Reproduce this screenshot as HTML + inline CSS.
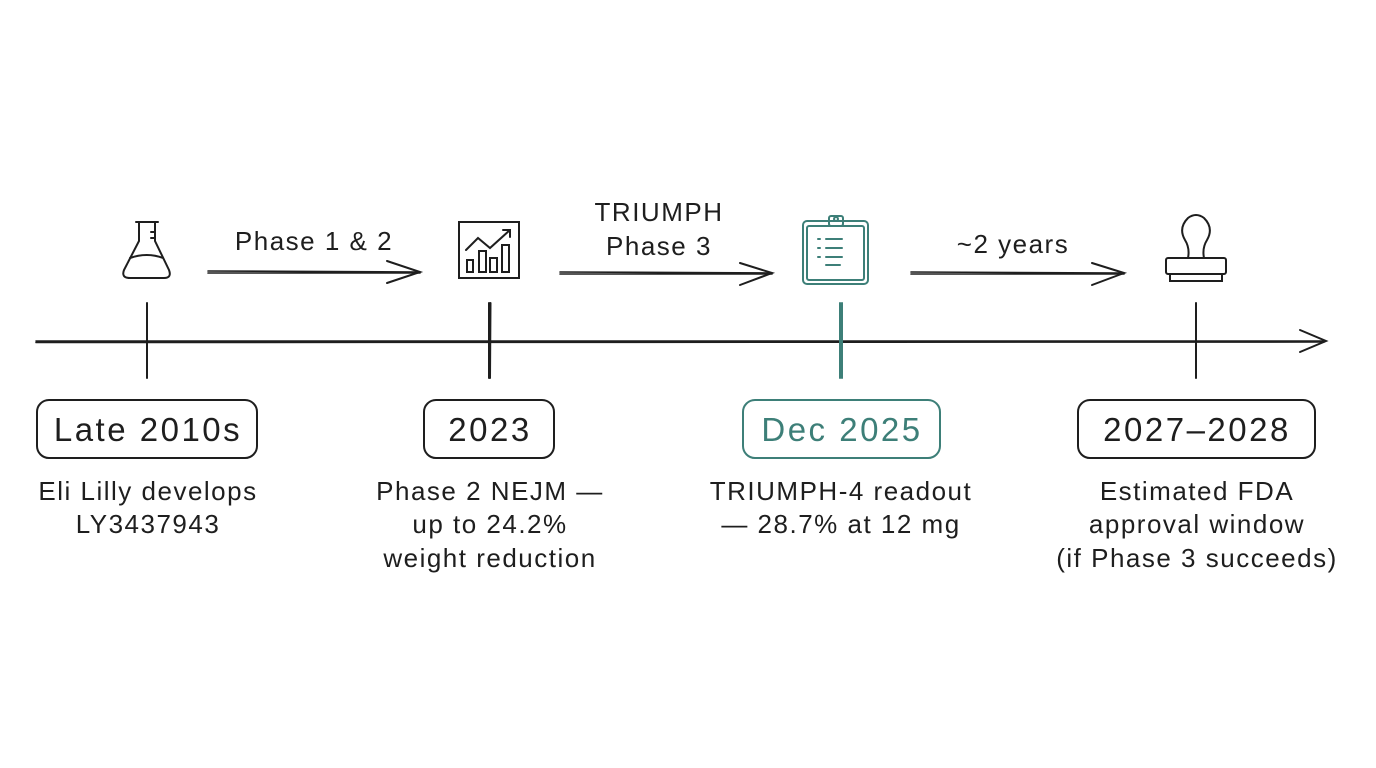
<!DOCTYPE html>
<html><head><meta charset="utf-8"><style>
html,body{margin:0;padding:0;background:#fff;}
svg{display:block}
text{font-family:"Liberation Sans",sans-serif;}
</style></head><body>
<svg width="1376" height="768" viewBox="0 0 1376 768" xmlns="http://www.w3.org/2000/svg">
<rect width="1376" height="768" fill="#fff"/>
<g stroke="#1e1e1e" stroke-width="2" fill="none" stroke-linecap="round">
<path d="M36 341 L1324 341 M36 342.5 L1324 342" stroke-width="1.6"/>
<path d="M1300 330 L1326 341 L1300 352"/>
<path d="M147 303 L147 378"/>
<path d="M489 303 L489 378 M490.5 303 L490 378"/>
<path d="M1196 303 L1196 378"/>
<path d="M208 271 L420 272 M208 273 L420 273" stroke-width="1.6"/>
<path d="M387 261 L420 272 L387 283"/>
<path d="M560 272 L772 273 M560 274 L772 274" stroke-width="1.6"/>
<path d="M740 263 L772 273 L740 285"/>
<path d="M911 272 L1124 273 M911 274 L1124 274" stroke-width="1.6"/>
<path d="M1092 263 L1124 273 L1092 285"/>
<rect x="37" y="400" width="220" height="58" rx="12"/>
<rect x="424" y="400" width="130" height="58" rx="12"/>
<rect x="1078" y="400" width="237" height="58" rx="12"/>
<path d="M136 222 L158 222 M139 222 L139 241 L124 270 Q121 278 130 278 L164 278 Q172 278 169 270 L155 241 L155 222"/>
<path d="M130 258 Q147 252 163 258"/>
<path d="M151 232 L155 232 M151 238 L155 238"/>
<rect x="459" y="222" width="60" height="56"/>
<path d="M466 250 L478 238 L490 248 L510 230 M503 230 L510 230 L510 237"/>
<rect x="467" y="260" width="6" height="12"/>
<rect x="479" y="251" width="7" height="21"/>
<rect x="490" y="258" width="7" height="14"/>
<rect x="502" y="245" width="7" height="27"/>
<path d="M1188 258 Q1190 248 1185 240 Q1178 228 1188 218 Q1196 212 1204 218 Q1214 228 1207 240 Q1202 248 1204 258"/>
<rect x="1166" y="258" width="60" height="16" rx="2"/>
<path d="M1170 274 L1170 281 L1222 281 L1222 274"/>
</g>
<g stroke="#3d7f78" stroke-width="2" fill="none" stroke-linecap="round">
<path d="M840 303 L840 378 M842 303 L842 378"/>
<rect x="743" y="400" width="197" height="58" rx="12"/>
<rect x="803" y="221" width="65" height="63" rx="4"/>
<rect x="807" y="226" width="57" height="54" rx="2"/>
<rect x="829" y="216" width="14" height="10" rx="2"/>
<circle cx="836" cy="219" r="2"/>
<path d="M818 239 L820 239 M826 239 L842 239 M818 248 L820 248 M826 248 L842 248 M818 257 L820 257 M826 257 L842 257 M826 265 L840 265"/>
</g>
<g font-size="33" letter-spacing="2.5" text-anchor="middle" fill="#1e1e1e">
<text x="148" y="441">Late 2010s</text>
<text x="490" y="441">2023</text>
<text x="842" y="441" fill="#3d7f78">Dec 2025</text>
<text x="1197" y="441">2027–2028</text>
</g>
<g font-size="26" letter-spacing="1.5" text-anchor="middle" fill="#1e1e1e">
<text x="314" y="250">Phase 1 &amp; 2</text>
<text x="659" y="221">TRIUMPH</text>
<text x="659" y="255">Phase 3</text>
<text x="1013" y="253">~2 years</text>
<text x="148" y="500">Eli Lilly develops</text>
<text x="148" y="533">LY3437943</text>
<text x="490" y="500">Phase 2 NEJM —</text>
<text x="490" y="533">up to 24.2%</text>
<text x="490" y="567">weight reduction</text>
<text x="841" y="500">TRIUMPH-4 readout</text>
<text x="841" y="533">— 28.7% at 12 mg</text>
<text x="1197" y="500">Estimated FDA</text>
<text x="1197" y="533">approval window</text>
<text x="1197" y="567">(if Phase 3 succeeds)</text>
</g>
</svg>
</body></html>
